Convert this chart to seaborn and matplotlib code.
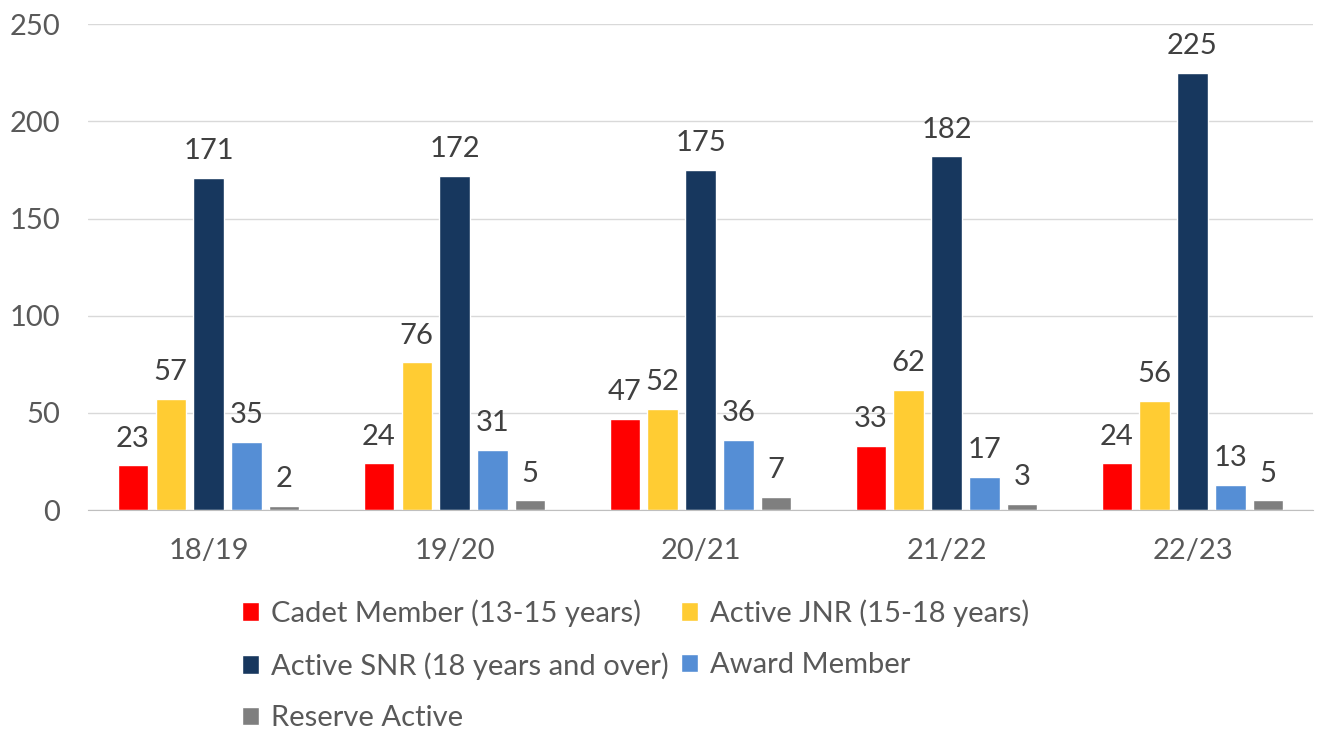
import matplotlib
matplotlib.use("Agg")
import matplotlib.pyplot as plt
import seaborn as sns
import pandas as pd

years = ["18/19", "19/20", "20/21", "21/22", "22/23"]
cadet = [23, 24, 47, 33, 24]
active_jnr = [57, 76, 52, 62, 56]
active_snr = [171, 172, 175, 182, 225]
award = [35, 31, 36, 17, 13]
reserve = [2, 5, 7, 3, 5]

series_names = ["Cadet Member (13-15 years)", "Active JNR (15-18 years)",
                "Active SNR (18 years and over)", "Award Member", "Reserve Active"]
colors = ["#FF0000", "#FFCC33", "#17375E", "#558ED5", "#7F7F7F"]

rows = []
for name, vals in zip(series_names, [cadet, active_jnr, active_snr, award, reserve]):
    for y, v in zip(years, vals):
        rows.append({"year": y, "series": name, "value": v})
df = pd.DataFrame(rows)

sns.set_style("white")
plt.rcParams['font.family'] = ['Lato', 'DejaVu Sans']

fig = plt.figure(figsize=(13.22, 7.34), dpi=100)
ax = fig.add_axes([0.0666, 0.305, 0.9266, 0.662])

sns.barplot(data=df, x="year", y="value", hue="series", palette=colors,
            width=0.77, gap=0.2, saturation=1, ax=ax, legend=True)

for cont in ax.containers:
    ax.bar_label(cont, padding=10, fontsize=21, color="#404040")

ax.set_ylim(0, 250)
ax.set_xlim(-0.49, 4.49)
ax.set_yticks([0, 50, 100, 150, 200, 250])
ax.yaxis.grid(True, color="#D9D9D9", linewidth=1)
ax.set_axisbelow(True)
ax.set_xlabel("")
ax.set_ylabel("")
ax.tick_params(axis="y", labelsize=21, colors="#595959", length=0, pad=20)
ax.tick_params(axis="x", labelsize=21, colors="#595959", length=0, pad=20)
for s in ["top", "right", "left"]:
    ax.spines[s].set_visible(False)
ax.spines["bottom"].set_color("#BFBFBF")

handles, labels = ax.get_legend_handles_labels()
ax.get_legend().remove()
order = [0, 2, 4, 1, 3]
fig.legend([handles[i] for i in order], [labels[i] for i in order],
           loc="upper left", bbox_to_anchor=(0.183, 0.184), ncol=2,
           frameon=False, fontsize=21, handlelength=0.6, handleheight=0.6,
           handletextpad=0.4, columnspacing=0.4, labelspacing=0.88,
           borderpad=0, borderaxespad=0, labelcolor="#595959")

fig.savefig("out.png", dpi=100)
